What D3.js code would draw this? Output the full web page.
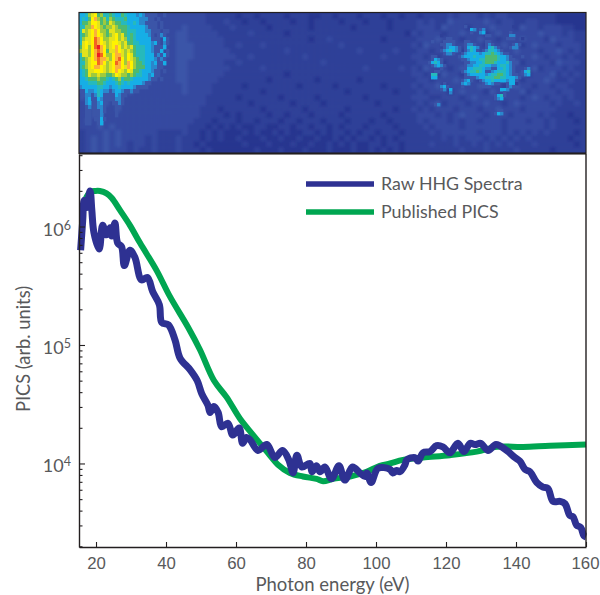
<!DOCTYPE html>
<html lang="en">
<head>
  <meta charset="UTF-8" />
  <title>PICS</title>
  <script src="https://d3js.org/d3.v7.min.js"></script>
  <style>
    html, body { margin: 0; background: #fff; overflow: hidden; }
    svg { display: block; font-family: Lato, "Open Sans", sans-serif; }
    text { fill: #58595b; }
  </style>
</head>
<body>
  <svg width="600" height="595"></svg>

  <script>
  // photon energy (eV) and log10(PICS)
  const rawEnergy = [15.6,16.2,16.6,17.3,18.3,18.8,19.4,20.9,21.9,23.0,24.0,24.5,25.4,26.2,27.3,28.1,29.7,31.1,33.0,34.7,36.2,38.1,38.8,40.7,42.6,44.0,46.9,48.9,50.2,52.0,52.6,53.7,54.9,55.9,57.7,59.1,60.9,61.9,63.0,64.0,66.3,68.8,71.1,73.3,75.1,76.3,77.4,78.8,81.1,81.7,83.0,84.0,85.4,87.3,89.4,91.1,93.3,95.4,96.9,97.4,98.6,100.6,104.0,104.8,105.9,106.8,108.3,108.8,111.1,112.0,113.4,115.4,117.3,119.1,121.1,123.4,125.1,126.9,128.3,129.9,132.0,134.3,137.3,139.7,141.1,142.6,144.0,145.9,147.7,149.1,150.6,152.6,154.0,155.4,156.3,157.3,158.5,159.4,160];
  const rawLog = [5.80,6.05,6.22,6.16,6.30,6.14,5.95,5.81,6.01,5.93,5.99,5.92,6.03,5.86,5.83,5.67,5.80,5.74,5.55,5.57,5.45,5.34,5.19,5.17,5.04,4.89,4.79,4.70,4.59,4.49,4.43,4.48,4.43,4.31,4.34,4.24,4.30,4.17,4.22,4.20,4.11,4.16,4.05,4.11,4.03,3.92,4.07,3.97,4.00,3.93,3.98,3.93,3.97,3.87,3.98,3.86,3.97,3.92,3.89,3.92,3.84,3.96,3.95,3.92,3.94,3.93,3.99,4.03,4.05,4.02,4.09,4.10,4.15,4.14,4.09,4.17,4.10,4.17,4.16,4.17,4.11,4.16,4.11,4.05,4.02,3.95,3.93,3.84,3.80,3.79,3.68,3.68,3.66,3.56,3.55,3.48,3.46,3.39,3.38];

  const picsEnergy = [16.8,17.7,18.6,19.7,21.1,23.0,24.5,26.8,29.7,32.6,37.3,41.1,46.3,49.7,53.7,57.3,61.1,64.9,69.1,72.0,75.4,79.1,83.0,84.9,87.7,92.6,97.3,101.1,104,107.7,113.4,121.1,128.8,134.5,142,149.7,160];
  const picsLog = [6.22,6.27,6.295,6.30,6.30,6.28,6.24,6.14,6.01,5.86,5.63,5.41,5.15,4.96,4.70,4.56,4.38,4.24,4.09,3.99,3.92,3.89,3.87,3.85,3.87,3.89,3.93,3.98,4.00,4.03,4.05,4.07,4.10,4.14,4.14,4.15,4.16];

  const xTicks = [20,40,60,80,100,120,140,160];
  const yMajor = [4,5,6];
  const legendLabels = ["Raw HHG Spectra","Published PICS"];

  // detector image background, one hex digit per cell, 84 x 24
  const heatBack = [
    "4433333333333333 3333322222 1221222212 2211221222 122212212 2122223233 3232332222 222211111",
    "4433333333333333 3333322232 2122122221 2212222122 212221222 2323224333 3343233223 322211111",
    "4433333333333333 3433332223 2222212222 2212222221 222221222 2333243332 3334333243 323332211",
    "4444333333333333 4433333222 2232222212 2222222222 222222221 3233323343 3323433333 343332322",
    "4444333333333333 4433333322 2222222222 2212232222 222212222 2333433323 3433233343 332433322",
    "4444333333333333 4443333322 3222322222 2222222322 222222222 3243323334 3323343323 433323332",
    "4444333333333333 4443333332 2222222232 2222222222 322222322 2332334323 4333233433 323343232",
    "4444333333333333 4443333333 2232222222 2322222222 222232222 3323233342 3334323333 432332322",
    "4444333333333333 4433333322 3222222222 2222322222 222222222 2333423333 2343333423 333243332",
    "4444333333333333 4433333332 2222322222 2222222222 232222232 3243332343 3323433333 423332322",
    "4444333333333333 4433333322 2222222212 2222222222 222222222 3323243323 4333233342 333423232",
    "4444333333333333 4433333222 2222212222 2221222222 122222222 2332333433 3233433323 334322322",
    "4343333333333333 3433332222 2122222222 1222221222 222212222 3233423333 3433323433 233233222",
    "4344434343333333 3433332222 2222122222 2222222212 222222122 2323332343 3324333342 333323322",
    "4344434333333333 3333322222 1222222122 2221222222 212222222 3332233323 4333233323 432332322",
    "3344434333333333 3333322222 2212222221 2222122222 222122222 2323423332 3343323433 333232232",
    "3344334333333333 3333222122 2222122222 2122222212 222222122 3232333233 3233433323 333322222",
    "3344333333333333 3333222212 1222212212 2212222122 222212222 2333232343 3323332333 323222122",
    "3434333333333333 3332221222 1221222122 1222122212 221221222 2323332323 3233323332 332322212",
    "3334343333333333 3322212121 2112211221 2212212122 212222122 2232333323 3333323333 332322222",
    "2333434333333222 2322121211 1212112121 1221212212 122122212 2223233333 3233323232 323222212",
    "2343434333323222 3222121211 2111211211 2112112121 221212122 2222232323 3323232323 222222122",
    "2343434323323222 3221211111 1211121112 1121121212 112212212 2223222322 3232323222 322222212",
    "2343433323223222 3222121111 1112111211 1211121112 112121212 2222222232 2232222322 222122222"];

  // finer cells for the bright patch at low energy, 31 x 28
  const heatHot = [
    "6679ab8977 8766876665 6544443343 3","6768bc9897 9877786666 5554434333 3",
    "6889bba898 a988776676 5544443433 3","7799cba989 9a98887666 6654443433 3",
    "7a9abcb998 aa99887776 6655444344 3","789abcba98 9ab9a87876 6665434543 3",
    "79aabdcb99 aab9a97876 6666444364 3","7ababdcba9 abba9a8877 6666564354 3",
    "8ab9bdecb9 abcb9a9a87 7766544463 3","9aa9bcdcb8 aacba9a987 7766544634 3",
    "7aa9bcedb9 9bcca9ba87 7766645464 3","789abcdcca 9bcdb9ba98 7766654543 3",
    "779abbdcb9 abdcb9cb98 8766564463 3","789abccba9 abccbacb98 8866554433 3",
    "678aabbba9 abcba9ba88 7666544343 3","678a99a998 89ba998987 7665644333 3",
    "6678889887 6789788766 6665443433 3","6667778876 6678767666 6544333333 3",
    "5666667766 5667666654 4443333333 3","4465567655 4566544544 3333333333 3",
    "3455457644 4465443333 3333333333 3","3356446544 4455433333 3333333333 3",
    "3356345643 3445433333 3333333333 3","3345345543 3344333333 3333333333 3",
    "3344334543 3343333333 3333333333 3","3344334533 3343333333 3333333333 3",
    "3344344643 3333333333 3333333333 3","3344334633 3333333333 3333333333 3"];

  // finer cells for the patch near 125 eV, 34 x 31
  const heatSpot = [
    "3332333333 3343333333 3333333323 3333","3333333333 3333653453 3333333333 3333",
    "3333333333 3333433563 3333333433 3333","3333233333 3333333334 4333333553 3333",
    "3333334433 3333333333 3333334443 3233","3433344443 3344333334 4333333333 3333",
    "3333445543 3345543334 5433333345 4333","3333345665 4346765334 6754333455 3333",
    "3333456765 4345764345 7765433333 3333","3333345543 3456666567 7876544333 3333",
    "3443333333 4566676668 8887665433 3433","3465433333 3445666778 8887665443 3333",
    "4676433333 3344556678 8876667544 3333","3456543333 3345566776 6556776543 3333",
    "3333433333 3346677765 5446676543 3345","3344333333 3456778764 4567776543 3467",
    "3773333333 3345666665 6778876544 3356","3663333333 3344445667 7788776665 4333",
    "3333333333 3456433456 6766665664 3333","3333343333 3565333345 6544334662 3333",
    "3333564333 3433333344 4333334543 3333","3333453633 3333333333 3333665333 3333",
    "3333333533 3333333333 3333343333 3333","3333333333 3333333333 3346743333 3333",
    "3333333333 3333333333 3345633333 3333","3333333333 3333333333 3333333333 3333",
    "3345333333 3333333333 3333333333 3333","3333333333 3333333333 3333333333 3333",
    "3333333333 3333333333 3334433333 3333","3333333333 3333333333 3346533333 3333",
    "3333333333 3333333333 3333333333 3333"];

  const heatLevels = d3.range(15);
  const heatColors = ["#202c84","#27358f","#2d3f98","#3449a0","#3a55a8","#2b86cc","#14aee6","#27b9bc","#4db96f","#9fca3c","#e3e31f","#fff200","#fbb03b","#f26522","#ed1c24"];

  const svg = d3.select("svg");
  const margin = { left: 79, right: 586, top: 154, bottom: 547 };
  const imgTop = 13, imgBottom = 153;
  const ink = "#231f20";

  const x = d3.scaleLinear().domain([15.14, 160]).range([margin.left, margin.right]);
  const y = d3.scaleLog().domain([10 ** 3.295, 10 ** 6.612]).range([margin.bottom, margin.top]);
  const heat = d3.scaleLinear().domain(heatLevels).range(heatColors);

  const toCells = rows => rows.flatMap((row, r) =>
    row.replace(/ /g, "").split("").map((ch, c) => ({ r, c, v: parseInt(ch, 16) })));

  const defs = svg.append("defs");
  [["soft", 1.5], ["fine", 0.6]].forEach(([id, sd]) => {
    defs.append("filter").attr("id", id)
      .attr("filterUnits", "userSpaceOnUse").attr("x", 60).attr("y", 0).attr("width", 540).attr("height", 170)
      .append("feGaussianBlur").attr("stdDeviation", sd);
  });
  defs.append("clipPath").attr("id", "imgclip").append("rect")
    .attr("x", margin.left).attr("y", imgTop).attr("width", margin.right - margin.left).attr("height", imgBottom - imgTop);

  const panel = svg.append("g").attr("clip-path", "url(#imgclip)");
  panel.append("rect").attr("x", margin.left).attr("y", imgTop)
    .attr("width", margin.right - margin.left).attr("height", imgBottom - imgTop).attr("fill", heatColors[2]);

  // draw one block of cells between the given edges; level 3 counts as empty in the overlays
  function drawCells(rows, x0, x1, y0, y1, filter, skip) {
    const cols = rows[0].replace(/ /g, "").length;
    const bx = d3.scaleBand().domain(d3.range(cols)).range([x0, x1]);
    const by = d3.scaleBand().domain(d3.range(rows.length)).range([y0, y1]);
    panel.append("g").attr("filter", `url(#${filter})`)
      .selectAll("rect").data(toCells(rows).filter(d => d.v !== skip)).enter().append("rect")
      .attr("x", d => bx(d.c)).attr("y", d => by(d.r))
      .attr("width", bx.bandwidth() + 0.4).attr("height", by.bandwidth() + 0.4)
      .attr("fill", d => heat(d.v));
  }
  drawCells(heatBack, margin.left, margin.right, imgTop, imgBottom, "soft", null);
  drawCells(heatHot, 79, 172, 13, 125, "fine", 3);
  drawCells(heatSpot, 428, 530, 25, 118, "fine", 3);

  svg.append("rect").attr("x", margin.left).attr("y", imgTop - 0.5)
    .attr("width", margin.right - margin.left).attr("height", imgBottom - imgTop + 1)
    .attr("fill", "none").attr("stroke", ink).attr("stroke-width", 1.2);
  svg.append("line").attr("x1", margin.left).attr("x2", margin.right).attr("y1", 153.5).attr("y2", 153.5)
    .attr("stroke", ink).attr("stroke-width", 1.8);

  // curves
  const line = d3.line().x(d => x(d[0])).y(d => y(10 ** d[1])).curve(d3.curveCatmullRom.alpha(0.5));
  const series = [
    { pts: d3.zip(picsEnergy, picsLog), color: "#00a651", width: 6 },
    { pts: d3.zip(rawEnergy, rawLog), color: "#2e3192", width: 7 }
  ];
  svg.append("g").attr("fill", "none")
    .selectAll("path").data(series).enter().append("path")
    .attr("d", d => line(d.pts))
    .attr("stroke", d => d.color).attr("stroke-width", d => d.width)
    .attr("stroke-linejoin", "round");

  // axes
  const xAxis = d3.axisBottom(x).tickValues(xTicks).tickSizeInner(-5).tickSizeOuter(0).tickPadding(10);
  const gx = svg.append("g").attr("transform", `translate(0,${margin.bottom})`).call(xAxis);
  gx.selectAll("text").attr("font-size", 16.8).attr("font-family", "inherit").attr("fill", "#58595b")
    .attr("dx", d => d === 160 ? -1 : 0);

  const minor = d3.range(3, 7).flatMap(e => d3.range(1, 10).map(m => m * 10 ** e)).filter(v => v >= y.domain()[0] && v <= y.domain()[1]);
  const gy = svg.append("g").attr("transform", `translate(${margin.left},0)`)
    .call(d3.axisLeft(y).tickValues(minor).tickSizeInner(-3.5).tickSizeOuter(0).tickFormat(""));
  gy.selectAll(".tick line").filter(d => yMajor.includes(Math.round(Math.log10(d) * 1000) / 1000)).attr("x2", 6);

  [gx, gy].forEach(g => {
    g.select(".domain").attr("stroke", ink).attr("stroke-width", 1.4);
    g.selectAll(".tick line").attr("stroke", ink).attr("stroke-width", 1.1);
  });
  svg.append("line").attr("x1", margin.right).attr("x2", margin.right).attr("y1", margin.top).attr("y2", margin.bottom)
    .attr("stroke", ink).attr("stroke-width", 1.4);

  // 10^n labels
  const yLabels = svg.append("g").selectAll("text").data(yMajor).enter().append("text")
    .attr("x", 71).attr("y", d => y(10 ** d) + 9).attr("text-anchor", "end").attr("font-size", 18);
  yLabels.append("tspan").text("10");
  yLabels.append("tspan").attr("font-size", 12.5).attr("dy", -6).text(d => d);

  svg.append("text").attr("transform", "translate(30,349) rotate(-90)").attr("text-anchor", "middle")
    .attr("font-size", 18.3).text("PICS (arb. units)");
  svg.append("text").attr("x", 332.5).attr("y", 591).attr("text-anchor", "middle")
    .attr("font-size", 18.5).text("Photon energy (eV)");

  // legend
  const legend = svg.append("g").selectAll("g").data(legendLabels).enter().append("g")
    .attr("transform", (d, i) => `translate(306,${184 + i * 28})`);
  legend.append("line").attr("x2", 68).attr("stroke-width", 5.6)
    .attr("stroke", (d, i) => series[1 - i].color);
  legend.append("text").attr("x", 75).attr("y", 6).attr("font-size", 17.8).text(d => d);
  </script>
</body>
</html>
